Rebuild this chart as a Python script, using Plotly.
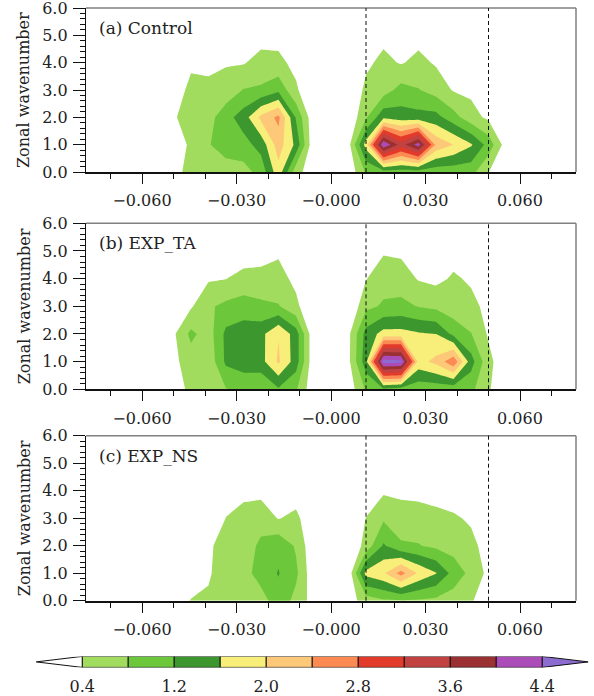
import plotly.graph_objects as go

# ---------------- data ----------------
FREQ_INDEX = list(range(-14, 15))                 # frequency bins (cycles per 180 days)
FREQUENCY = [k / 180.0 for k in FREQ_INDEX]       # cycles per day
WAVENUMBER = [0, 1, 2, 3, 4, 5, 6]

# rows = wavenumber 0..6, columns = FREQUENCY
CONTROL = [
    [0, 0, 0, 0, 0, 0.30, 0.50, 0.55, 0.60, 0.65, 0.95, 1.85, 0.55, 0.15, 0, 0.10, 0.85, 1.00, 1.00, 1.00, 0.95, 0.95, 0.95, 0.41, 0.05, 0, 0, 0, 0],
    [0, 0, 0, 0, 0, 0.24, 0.45, 0.77, 1.00, 1.05, 1.35, 2.20, 1.50, 0.10, 0, 0.25, 1.77, 4.38, 3.40, 4.20, 2.30, 2.00, 1.65, 1.05, 0.20, 0, 0, 0, 0],
    [0, 0, 0, 0, 0, 0.35, 0.60, 0.65, 1.05, 1.40, 2.10, 2.50, 1.16, 0.10, 0, 0.05, 0.75, 1.49, 1.38, 1.35, 1.34, 0.96, 0.55, 0.32, 0.05, 0, 0, 0, 0],
    [0, 0, 0, 0, 0, 0.08, 0.56, 0.47, 0.55, 0.82, 0.86, 1.10, 0.46, 0.05, 0, 0.00, 0.50, 0.61, 0.94, 0.82, 0.63, 0.37, 0.32, 0.05, 0.00, 0, 0, 0, 0],
    [0, 0, 0, 0, 0, 0.00, 0.30, 0.33, 0.37, 0.37, 0.55, 0.49, 0.30, 0.00, 0, 0.00, 0.32, 0.50, 0.37, 0.50, 0.36, 0.20, 0.10, 0.00, 0.00, 0, 0, 0, 0],
    [0, 0, 0, 0, 0, 0.00, 0.10, 0.15, 0.20, 0.20, 0.24, 0.28, 0.10, 0.00, 0, 0.00, 0.10, 0.30, 0.20, 0.28, 0.15, 0.10, 0.05, 0.00, 0.00, 0, 0, 0, 0],
    [0, 0, 0, 0, 0, 0.00, 0.05, 0.05, 0.05, 0.05, 0.10, 0.10, 0.05, 0.00, 0, 0.00, 0.05, 0.10, 0.05, 0.10, 0.05, 0.05, 0.00, 0.00, 0.00, 0, 0, 0, 0],
]

EXP_TA = [
    [0, 0, 0, 0, 0, 0.30, 0.45, 0.55, 0.78, 0.90, 0.82, 1.15, 0.85, 0.10, 0, 0.15, 0.85, 1.10, 1.00, 0.95, 0.95, 0.95, 0.90, 0.45, 0.05, 0, 0, 0, 0],
    [0, 0, 0, 0, 0, 0.30, 0.60, 0.51, 1.28, 1.40, 1.455, 2.06, 1.40, 0.10, 0, 0.30, 1.44, 4.60, 4.55, 1.85, 2.11, 2.70, 1.37, 0.52, 0.10, 0, 0, 0, 0],
    [0, 0, 0, 0, 0, 0.33, 0.90, 0.60, 1.30, 1.45, 1.48, 1.98, 1.40, 0.10, 0, 0.30, 1.35, 1.75, 1.75, 1.65, 1.60, 1.10, 0.82, 0.35, 0.00, 0, 0, 0, 0],
    [0, 0, 0, 0, 0, 0.05, 0.35, 0.74, 0.90, 0.95, 0.86, 0.83, 0.49, 0.05, 0, 0.00, 0.70, 0.85, 0.90, 0.78, 0.70, 0.55, 0.50, 0.30, 0.00, 0, 0, 0, 0],
    [0, 0, 0, 0, 0, 0.00, 0.20, 0.354, 0.39, 0.575, 0.62, 0.53, 0.31, 0.00, 0, 0.00, 0.38, 0.65, 0.60, 0.37, 0.30, 0.45, 0.35, 0.10, 0.00, 0, 0, 0, 0],
    [0, 0, 0, 0, 0, 0.00, 0.05, 0.15, 0.20, 0.10, 0.11, 0.345, 0.10, 0.00, 0, 0.00, 0.10, 0.35, 0.32, 0.20, 0.15, 0.25, 0.10, 0.00, 0.00, 0, 0, 0, 0],
    [0, 0, 0, 0, 0, 0.00, 0.00, 0.05, 0.05, 0.05, 0.05, 0.10, 0.05, 0.00, 0, 0.00, 0.00, 0.10, 0.10, 0.05, 0.05, 0.05, 0.00, 0.00, 0.00, 0, 0, 0, 0],
]

EXP_NS = [
    [0, 0, 0, 0, 0, 0.20, 0.42, 0.50, 0.50, 0.55, 0.60, 1.07, 0.67, 0.24, 0, 0.20, 0.60, 0.75, 0.78, 0.75, 0.70, 0.60, 0.45, 0.10, 0.00, 0, 0, 0, 0],
    [0, 0, 0, 0, 0, 0.05, 0.15, 0.32, 0.75, 0.62, 1.00, 1.22, 0.89, 0.11, 0, 0.13, 1.73, 1.94, 2.55, 1.94, 1.62, 1.05, 0.68, 0.30, 0.00, 0, 0, 0, 0],
    [0, 0, 0, 0, 0, 0.00, 0.00, 0.32, 0.60, 0.55, 0.90, 1.10, 0.75, 0.09, 0, 0.00, 0.55, 1.25, 0.85, 0.82, 0.71, 0.63, 0.50, 0.25, 0.00, 0, 0, 0, 0],
    [0, 0, 0, 0, 0, 0.00, 0.00, 0.00, 0.41, 0.55, 0.60, 0.38, 0.50, 0.08, 0, 0.00, 0.41, 0.74, 0.60, 0.60, 0.50, 0.45, 0.35, 0.05, 0.00, 0, 0, 0, 0],
    [0, 0, 0, 0, 0, 0.00, 0.00, 0.00, 0.20, 0.29, 0.30, 0.20, 0.19, 0.00, 0, 0.00, 0.15, 0.335, 0.30, 0.267, 0.26, 0.20, 0.10, 0.00, 0.00, 0, 0, 0, 0],
    [0, 0, 0, 0, 0, 0.00, 0.00, 0.00, 0.05, 0.10, 0.10, 0.05, 0.05, 0.00, 0, 0.00, 0.00, 0.15, 0.10, 0.10, 0.10, 0.05, 0.00, 0.00, 0.00, 0, 0, 0, 0],
    [0, 0, 0, 0, 0, 0.00, 0.00, 0.00, 0.00, 0.00, 0.00, 0.00, 0.00, 0.00, 0, 0.00, 0.00, 0.00, 0.00, 0.00, 0.00, 0.00, 0.00, 0.00, 0.00, 0, 0, 0, 0],
]

PANEL_DATA = [CONTROL, EXP_TA, EXP_NS]
PANEL_TITLES = ["(a) Control", "(b) EXP_TA", "(c) EXP_NS"]

LEVEL_START = 0.4
LEVEL_STEP = 0.4
LEVEL_END = 4.4
LEVELS = [0.4, 0.8, 1.2, 1.6, 2.0, 2.4, 2.8, 3.2, 3.6, 4.0, 4.4]
UNDER_COLOR = "#FFFFFF"
BAND_COLORS = ["#A2DC5E", "#6CC83A", "#3C982E", "#F8EE7A", "#FDC878",
               "#FC8A52", "#E23B2B", "#C24242", "#9A3032", "#AC4CB8"]
OVER_COLOR = "#8C6CD0"

X_TICKS = [-0.06, -0.03, 0.0, 0.03, 0.06]
X_TICKTEXT = ["\u22120.060", "\u22120.030", "\u22120.000", "0.030", "0.060"]
Y_TICKS = [0, 1, 2, 3, 4, 5, 6]
Y_TICKTEXT = ["0.0", "1.0", "2.0", "3.0", "4.0", "5.0", "6.0"]
CB_TICKS = [0.4, 1.2, 2.0, 2.8, 3.6, 4.4]
CB_TICKTEXT = ["0.4", "1.2", "2.0", "2.8", "3.6", "4.4"]
DASHED_FREQ = [1 / 90, 1 / 20]
Y_TITLE = "Zonal wavenumber"

# ---------------- style / layout ----------------
FONT = "DejaVu Serif"
TXT = "#222222"
TICK_SIZE = 16
W, H = 594, 696
X_DOM = [86 / W, 576 / W]
PANEL_PX = [(8, 172), (223.3, 389.3), (435.7, 600.7)]
Y_DOMS = [[1 - b / H, 1 - t / H] for t, b in PANEL_PX]

all_colors = [UNDER_COLOR] + BAND_COLORS + [OVER_COLOR]
n = len(all_colors) - 1
colorscale = [[i / n, c] for i, c in enumerate(all_colors)]

fig = go.Figure()
layout = dict(
    width=W, height=H, autosize=False,
    margin=dict(l=0, r=0, t=0, b=0, pad=0),
    paper_bgcolor="white", plot_bgcolor="white",
    showlegend=False,
    font=dict(family=FONT, size=TICK_SIZE, color=TXT),
    shapes=[], annotations=[],
)

xr = [FREQUENCY[0], FREQUENCY[-1]]
for i, (data, title) in enumerate(zip(PANEL_DATA, PANEL_TITLES)):
    sfx = "" if i == 0 else str(i + 1)
    fig.add_trace(go.Contour(
        x=FREQUENCY, y=WAVENUMBER, z=data,
        xaxis="x" + sfx, yaxis="y" + sfx,
        contours=dict(start=LEVEL_START, end=LEVEL_END, size=LEVEL_STEP,
                      coloring="fill", showlines=False),
        line=dict(width=0, smoothing=0),
        colorscale=colorscale, showscale=False, hoverinfo="skip",
    ))
    layout["xaxis" + sfx] = dict(
        domain=X_DOM, anchor="y" + sfx, range=xr, automargin=False,
        tickmode="array", tickvals=X_TICKS, ticktext=X_TICKTEXT,
        ticks="outside", ticklen=10, tickwidth=1, tickcolor="#111",
        minor=dict(tickmode="linear", tick0=0, dtick=0.01, ticks="outside",
                   ticklen=5, tickwidth=1, tickcolor="#111"),
        showgrid=False, zeroline=False, showline=True, linecolor="#111",
        linewidth=2, mirror=False, ticklabelstandoff=3,
        ticklabeloverflow="allow",
        tickfont=dict(family=FONT, size=TICK_SIZE, color=TXT),
    )
    layout["yaxis" + sfx] = dict(
        domain=Y_DOMS[i], anchor="x" + sfx, range=[0, 6], automargin=False,
        tickmode="array", tickvals=Y_TICKS, ticktext=Y_TICKTEXT,
        ticks="outside", ticklen=12, tickwidth=1, tickcolor="#111",
        minor=dict(tickmode="linear", tick0=0, dtick=0.2, ticks="outside",
                   ticklen=5, tickwidth=1, tickcolor="#111"),
        showgrid=False, zeroline=False, showline=True, linecolor="#111",
        linewidth=1.3, mirror=False, ticklabelstandoff=2,
        ticklabeloverflow="allow",
        tickfont=dict(family=FONT, size=TICK_SIZE, color=TXT),
    )
    # upper and right frame edges (lighter, as in the original frame)
    layout["shapes"].append(dict(
        type="line", xref="x" + sfx + " domain", yref="y" + sfx + " domain",
        x0=0, x1=1, y0=1, y1=1, line=dict(color="#808080", width=1.5),
    ))
    layout["shapes"].append(dict(
        type="line", xref="x" + sfx + " domain", yref="y" + sfx + " domain",
        x0=1, x1=1, y0=0, y1=1, line=dict(color="#808080", width=1.5),
    ))
    for f in DASHED_FREQ:
        layout["shapes"].append(dict(
            type="line", xref="x" + sfx, yref="y" + sfx + " domain",
            x0=f, x1=f, y0=0, y1=1,
            line=dict(color="#111", width=1, dash="4px,3px"),
        ))
    layout["annotations"].append(dict(
        text=title, xref="x" + sfx + " domain", yref="y" + sfx + " domain",
        x=0.022, y=0.88, xanchor="left", yanchor="middle", showarrow=False,
        font=dict(family=FONT, size=17, color=TXT),
    ))
    layout["annotations"].append(dict(
        text=Y_TITLE, xref="paper", yref="paper",
        x=24 / W, y=(Y_DOMS[i][0] + Y_DOMS[i][1]) / 2,
        xanchor="center", yanchor="middle", textangle=-90, showarrow=False,
        font=dict(family=FONT, size=16, color=TXT),
    ))

# ---------------- label bar ----------------
mids = [(a + b) / 2 for a, b in zip(LEVELS[:-1], LEVELS[1:])]
fig.add_trace(go.Bar(
    x=mids, y=[1] * len(mids), base=0, width=[LEVEL_STEP] * len(mids),
    marker=dict(color=BAND_COLORS, line=dict(color="#111", width=1)),
    xaxis="x4", yaxis="y4", hoverinfo="skip",
))
lo, hi = LEVELS[0], LEVELS[-1]
fig.add_trace(go.Scatter(
    x=[lo, lo - LEVEL_STEP, lo, lo], y=[0, 0.5, 1, 0], mode="lines",
    fill="toself", fillcolor=UNDER_COLOR, line=dict(color="#111", width=1),
    xaxis="x4", yaxis="y4", hoverinfo="skip",
))
fig.add_trace(go.Scatter(
    x=[hi, hi + LEVEL_STEP, hi, hi], y=[0, 0.5, 1, 0], mode="lines",
    fill="toself", fillcolor=OVER_COLOR, line=dict(color="#111", width=1),
    xaxis="x4", yaxis="y4", hoverinfo="skip",
))
layout["xaxis4"] = dict(
    domain=[36.2 / W, 588.3 / W], anchor="y4", automargin=False,
    range=[lo - LEVEL_STEP, hi + LEVEL_STEP],
    tickmode="array", tickvals=CB_TICKS, ticktext=CB_TICKTEXT,
    ticks="", showline=False, showgrid=False, zeroline=False,
    ticklabelstandoff=8, ticklabeloverflow="allow",
    tickfont=dict(family=FONT, size=TICK_SIZE, color=TXT),
)
layout["yaxis4"] = dict(
    domain=[1 - 667.4 / H, 1 - 656.4 / H], anchor="x4", range=[0, 1],
    automargin=False,
    showticklabels=False, ticks="", showline=False, showgrid=False,
    zeroline=False,
)

fig.update_layout(**layout)
fig.write_html(
    "out.html",
    config={"displayModeBar": False, "responsive": False},
    post_script="document.body.style.margin='0px';document.body.style.padding='0px';"
                "document.documentElement.style.overflow='hidden';",
)
